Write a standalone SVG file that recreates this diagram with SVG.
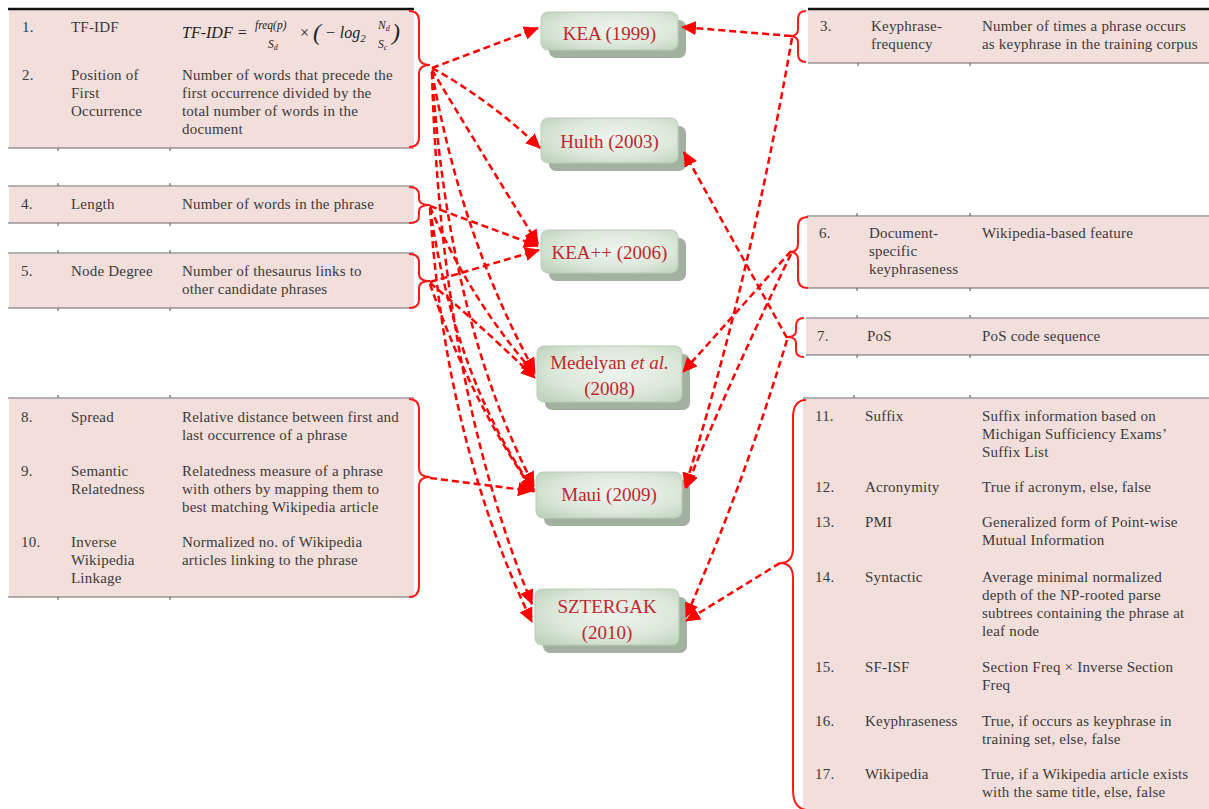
<svg xmlns="http://www.w3.org/2000/svg" width="1209" height="809" viewBox="0 0 1209 809">
<defs>
<style>
.pink{fill:#f2dedb}
.top{stroke:#111;stroke-width:2.5}
.rule{stroke:#666;stroke-width:1.2}
.tick{stroke:#555;stroke-width:1}
.t{font-family:"Liberation Serif","DejaVu Serif",serif;font-size:15px;letter-spacing:0.2px;fill:#3a3a3a}
.m{font-family:"Liberation Serif","DejaVu Serif",serif;font-style:italic;fill:#222}
.brace{fill:none;stroke:#ff1a1a;stroke-width:2}
.nl{font-family:"Liberation Serif","DejaVu Serif",serif;font-size:19px;fill:#c0272d;text-anchor:middle}
.shadow{fill:#a2b1a0}
.box{fill:url(#g);stroke:#b9ccb6;stroke-width:1}
.c{fill:none;stroke:#ff0000;stroke-width:2.5;stroke-dasharray:7 4}
</style>
<radialGradient id="g" cx="0.55" cy="0.45" r="0.7">
<stop offset="0" stop-color="#eef4ee"/>
<stop offset="0.6" stop-color="#dce8da"/>
<stop offset="1" stop-color="#bfd3bd"/>
</radialGradient>
<marker id="a" markerUnits="userSpaceOnUse" markerWidth="16" markerHeight="14" refX="14" refY="7" orient="auto">
<path d="M0,0 L15,7 L0,14 z" fill="#ff0000"/>
</marker>
</defs>
<rect width="1209" height="809" fill="#ffffff"/>

<!-- Left tables -->
<g id="feat-1-2">
<rect class="pink" x="9" y="10" width="405" height="138"/>
<line class="top" x1="8" y1="9" x2="414" y2="9"/>
<line class="rule" x1="8" y1="148" x2="414" y2="148"/>
<line class="tick" x1="58" y1="148" x2="58" y2="151"/><line class="tick" x1="170" y1="148" x2="170" y2="151"/>
<text class="t" x="22" y="32">1.</text>
<text class="t" x="71" y="32">TF-IDF</text>
<text class="m" x="182" y="38" font-size="16">TF-IDF =</text>
<text class="m" x="255" y="29" font-size="11.5">freq(p)</text>
<text class="m" x="268" y="48" font-size="11.5">S<tspan font-size="8" dy="2">d</tspan></text>
<text class="m" x="299" y="38" font-size="16" font-style="normal">×</text>
<text class="m" x="313" y="40" font-size="24" font-style="normal">(</text>
<text class="m" x="325" y="38" font-size="16">− log<tspan font-size="11" dy="4">2</tspan></text>
<text class="m" x="378" y="29" font-size="11.5">N<tspan font-size="8" dy="2">d</tspan></text>
<text class="m" x="378" y="48" font-size="11.5">S<tspan font-size="8" dy="2">c</tspan></text>
<text class="m" x="392" y="40" font-size="24" font-style="normal">)</text>
<text class="t" x="22" y="80">2.</text>
<text class="t" x="71" y="80">Position of</text>
<text class="t" x="71" y="98">First</text>
<text class="t" x="71" y="116">Occurrence</text>
<text class="t" x="182" y="80">Number of words that precede the</text>
<text class="t" x="182" y="98">first occurrence divided by the</text>
<text class="t" x="182" y="116">total number of words in the</text>
<text class="t" x="182" y="134">document</text>
<path class="brace" d="M409,11 Q419,11 419,21 L419,56 Q419,65 430,65 Q419,65 419,74 L419,137 Q419,147 409,147"/>
</g>

<g id="feat-4">
<rect class="pink" x="9" y="187" width="405" height="36"/>
<line class="rule" x1="8" y1="186" x2="414" y2="186"/>
<line class="rule" x1="8" y1="223" x2="414" y2="223"/>
<line class="tick" x1="58" y1="183" x2="58" y2="186"/><line class="tick" x1="170" y1="183" x2="170" y2="186"/>
<line class="tick" x1="58" y1="223" x2="58" y2="226"/><line class="tick" x1="170" y1="223" x2="170" y2="226"/>
<text class="t" x="21" y="209">4.</text>
<text class="t" x="71" y="209">Length</text>
<text class="t" x="182" y="209">Number of words in the phrase</text>
<path class="brace" d="M409,187 Q419,187 419,195 L419,199 Q419,205 430,205 Q419,205 419,211 L419,216 Q419,223 409,223"/>
</g>

<g id="feat-5">
<rect class="pink" x="9" y="254" width="405" height="54"/>
<line class="rule" x1="8" y1="253" x2="414" y2="253"/>
<line class="rule" x1="8" y1="308" x2="414" y2="308"/>
<line class="tick" x1="58" y1="250" x2="58" y2="253"/><line class="tick" x1="170" y1="250" x2="170" y2="253"/>
<line class="tick" x1="58" y1="308" x2="58" y2="311"/><line class="tick" x1="170" y1="308" x2="170" y2="311"/>
<text class="t" x="21" y="276">5.</text>
<text class="t" x="71" y="276">Node Degree</text>
<text class="t" x="182" y="276">Number of thesaurus links to</text>
<text class="t" x="182" y="294">other candidate phrases</text>
<path class="brace" d="M409,254 Q419,254 419,262 L419,274 Q419,281 430,281 Q419,281 419,288 L419,300 Q419,308 409,308"/>
</g>

<g id="feat-8-10">
<rect class="pink" x="9" y="399" width="405" height="198"/>
<line class="rule" x1="8" y1="398" x2="414" y2="398" stroke="#333"/>
<line class="rule" x1="8" y1="597" x2="414" y2="597" stroke="#333"/>
<line class="tick" x1="58" y1="395" x2="58" y2="398"/><line class="tick" x1="170" y1="395" x2="170" y2="398"/>
<line class="tick" x1="58" y1="597" x2="58" y2="600"/><line class="tick" x1="170" y1="597" x2="170" y2="600"/>
<text class="t" x="21" y="422">8.</text>
<text class="t" x="71" y="422">Spread</text>
<text class="t" x="182" y="422">Relative distance between first and</text>
<text class="t" x="182" y="440">last occurrence of a phrase</text>
<text class="t" x="21" y="476">9.</text>
<text class="t" x="71" y="476">Semantic</text>
<text class="t" x="71" y="494">Relatedness</text>
<text class="t" x="182" y="476">Relatedness measure of a phrase</text>
<text class="t" x="182" y="494">with others by mapping them to</text>
<text class="t" x="182" y="512">best matching Wikipedia article</text>
<text class="t" x="21" y="547">10.</text>
<text class="t" x="71" y="547">Inverse</text>
<text class="t" x="71" y="565">Wikipedia</text>
<text class="t" x="71" y="583">Linkage</text>
<text class="t" x="182" y="547">Normalized no. of Wikipedia</text>
<text class="t" x="182" y="565">articles linking to the phrase</text>
<path class="brace" d="M409,399 Q419,399 419,410 L419,468 Q419,477 430,477 Q419,477 419,486 L419,586 Q419,597 409,597"/>
</g>

<!-- Right tables -->
<g id="feat-3">
<rect class="pink" x="808" y="10" width="401" height="53"/>
<line class="top" x1="808" y1="9" x2="1209" y2="9"/>
<line class="rule" x1="808" y1="63" x2="1209" y2="63"/>
<line class="tick" x1="858" y1="63" x2="858" y2="66"/><line class="tick" x1="970" y1="63" x2="970" y2="66"/>
<text class="t" x="820" y="31">3.</text>
<text class="t" x="871" y="31">Keyphrase-</text>
<text class="t" x="871" y="49">frequency</text>
<text class="t" x="982" y="31">Number of times a phrase occurs</text>
<text class="t" x="982" y="49">as keyphrase in the training corpus</text>
<path class="brace" d="M806,11 Q798,11 798,19 L798,29 Q798,36 790,36 Q798,36 798,43 L798,54 Q798,62 806,62"/>
</g>

<g id="feat-6">
<rect class="pink" x="807" y="217" width="402" height="71"/>
<line class="rule" x1="807" y1="216" x2="1209" y2="216"/>
<line class="rule" x1="807" y1="288" x2="1209" y2="288"/>
<line class="tick" x1="857" y1="213" x2="857" y2="216"/><line class="tick" x1="970" y1="213" x2="970" y2="216"/>
<line class="tick" x1="857" y1="288" x2="857" y2="291"/><line class="tick" x1="970" y1="288" x2="970" y2="291"/>
<text class="t" x="819" y="238">6.</text>
<text class="t" x="869" y="238">Document-</text>
<text class="t" x="869" y="256">specific</text>
<text class="t" x="869" y="274">keyphraseness</text>
<text class="t" x="982" y="238">Wikipedia-based feature</text>
<path class="brace" d="M808,217 Q798,217 798,227 L798,244 Q798,252 790,252 Q798,252 798,260 L798,278 Q798,288 808,288"/>
</g>

<g id="feat-7">
<rect class="pink" x="806" y="319" width="403" height="36"/>
<line class="rule" x1="806" y1="318" x2="1209" y2="318"/>
<line class="rule" x1="806" y1="355" x2="1209" y2="355"/>
<line class="tick" x1="857" y1="315" x2="857" y2="318"/><line class="tick" x1="970" y1="315" x2="970" y2="318"/>
<line class="tick" x1="857" y1="355" x2="857" y2="358"/><line class="tick" x1="970" y1="355" x2="970" y2="358"/>
<text class="t" x="817" y="341">7.</text>
<text class="t" x="867" y="341">PoS</text>
<text class="t" x="982" y="341">PoS code sequence</text>
<path class="brace" d="M804,318 Q796,318 796,326 L796,331 Q796,337 787,337 Q796,337 796,343 L796,350 Q796,357 804,357"/>
</g>

<g id="feat-11-17">
<rect class="pink" x="803" y="399" width="406" height="410"/>
<line class="rule" x1="803" y1="398" x2="1209" y2="398" stroke="#333"/>
<line class="tick" x1="854" y1="395" x2="854" y2="398"/><line class="tick" x1="970" y1="395" x2="970" y2="398"/>
<text class="t" x="815" y="421">11.</text>
<text class="t" x="865" y="421">Suffix</text>
<text class="t" x="982" y="421">Suffix information based on</text>
<text class="t" x="982" y="439">Michigan Sufficiency Exams’</text>
<text class="t" x="982" y="457">Suffix List</text>
<text class="t" x="815" y="492">12.</text>
<text class="t" x="865" y="492">Acronymity</text>
<text class="t" x="982" y="492">True if acronym, else, false</text>
<text class="t" x="815" y="527">13.</text>
<text class="t" x="865" y="527">PMI</text>
<text class="t" x="982" y="527">Generalized form of Point-wise</text>
<text class="t" x="982" y="545">Mutual Information</text>
<text class="t" x="815" y="582">14.</text>
<text class="t" x="865" y="582">Syntactic</text>
<text class="t" x="982" y="582">Average minimal normalized</text>
<text class="t" x="982" y="600">depth of the NP-rooted parse</text>
<text class="t" x="982" y="618">subtrees containing the phrase at</text>
<text class="t" x="982" y="636">leaf node</text>
<text class="t" x="815" y="672">15.</text>
<text class="t" x="865" y="672">SF-ISF</text>
<text class="t" x="982" y="672">Section Freq × Inverse Section</text>
<text class="t" x="982" y="690">Freq</text>
<text class="t" x="815" y="726">16.</text>
<text class="t" x="865" y="726">Keyphraseness</text>
<text class="t" x="982" y="726">True, if occurs as keyphrase in</text>
<text class="t" x="982" y="744">training set, else, false</text>
<text class="t" x="815" y="779">17.</text>
<text class="t" x="865" y="779">Wikipedia</text>
<text class="t" x="982" y="779">True, if a Wikipedia article exists</text>
<text class="t" x="982" y="797">with the same title, else, false</text>
<path class="brace" d="M806,400 Q793,400 793,418 L793,548 Q793,563 780,563 Q793,563 793,578 L793,790 Q793,808 806,810"/>
</g>

<!-- Nodes -->
<g id="node-kea">
<rect class="shadow" x="549" y="20" width="137" height="38" rx="7"/>
<rect class="box" x="541" y="12" width="137" height="38" rx="7"/>
<text class="nl" x="609.5" y="40">KEA (1999)</text>
</g>
<g id="node-hulth">
<rect class="shadow" x="549" y="126" width="137" height="45" rx="7"/>
<rect class="box" x="541" y="118" width="137" height="45" rx="7"/>
<text class="nl" x="609.5" y="148">Hulth (2003)</text>
</g>
<g id="node-keapp">
<rect class="shadow" x="549" y="238" width="137" height="43" rx="7"/>
<rect class="box" x="541" y="230" width="137" height="43" rx="7"/>
<text class="nl" x="609.5" y="259">KEA++ (2006)</text>
</g>
<g id="node-medelyan">
<rect class="shadow" x="545" y="354" width="145" height="56" rx="7"/>
<rect class="box" x="537" y="346" width="145" height="56" rx="7"/>
<text class="nl" x="609.5" y="369">Medelyan <tspan font-style="italic">et al.</tspan></text>
<text class="nl" x="609.5" y="395">(2008)</text>
</g>
<g id="node-maui">
<rect class="shadow" x="544" y="480" width="146" height="46" rx="7"/>
<rect class="box" x="536" y="472" width="146" height="46" rx="7"/>
<text class="nl" x="609" y="501">Maui (2009)</text>
</g>
<g id="node-sztergak">
<rect class="shadow" x="543" y="597" width="144" height="56" rx="7"/>
<rect class="box" x="535" y="589" width="144" height="56" rx="7"/>
<text class="nl" x="607" y="613">SZTERGAK</text>
<text class="nl" x="607" y="639">(2010)</text>
</g>

<!-- Connectors -->
<g id="connectors">
<path class="c" d="M432,68 L538,28" marker-end="url(#a)"/>
<path class="c" d="M432,68 Q490,100 540,148" marker-end="url(#a)"/>
<path class="c" d="M432,70 Q480,150 538,244" marker-end="url(#a)"/>
<path class="c" d="M432,72 Q462,240 535,372" marker-end="url(#a)"/>
<path class="c" d="M432,72 Q448,320 534,486" marker-end="url(#a)"/>
<path class="c" d="M432,72 Q440,380 532,604" marker-end="url(#a)"/>
<path class="c" d="M430,206 L538,246" marker-end="url(#a)"/>
<path class="c" d="M430,207 Q470,300 535,374" marker-end="url(#a)"/>
<path class="c" d="M430,208 Q455,380 534,490" marker-end="url(#a)"/>
<path class="c" d="M430,208 Q445,440 532,622" marker-end="url(#a)"/>
<path class="c" d="M430,282 L539,250" marker-end="url(#a)"/>
<path class="c" d="M430,283 Q475,320 535,378" marker-end="url(#a)"/>
<path class="c" d="M430,284 Q470,400 534,492" marker-end="url(#a)"/>
<path class="c" d="M430,478 L532,491" marker-end="url(#a)"/>
<path class="c" d="M791,36 L682,27" marker-end="url(#a)"/>
<path class="c" d="M792,38 Q750,280 685,487" marker-end="url(#a)"/>
<path class="c" d="M791,251 L683,372" marker-end="url(#a)"/>
<path class="c" d="M791,254 Q730,380 686,488" marker-end="url(#a)"/>
<path class="c" d="M787,338 L684,152" marker-end="url(#a)"/>
<path class="c" d="M787,340 Q745,480 686,617" marker-end="url(#a)"/>
<path class="c" d="M780,563 L686,621" marker-end="url(#a)"/>
</g>
</svg>
